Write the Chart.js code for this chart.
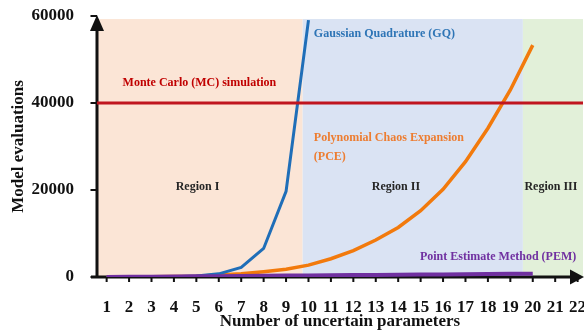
<!DOCTYPE html>
<html>
<head>
<meta charset="utf-8">
<script src="https://cdn.jsdelivr.net/npm/chart.js@4/dist/chart.umd.min.js"></script>
<style>
  html, body { margin: 0; padding: 0; background: #fff; }
  canvas { display: block; }
</style>
</head>
<body>
<canvas id="evalChart" width="584" height="332"></canvas>
<script>
// number of uncertain parameters
const params = [1, 2, 3, 4, 5, 6, 7, 8, 9, 10, 11, 12, 13, 14, 15, 16, 17, 18, 19, 20];
// model evaluations
const gqEvals = [3, 9, 27, 81, 243, 729, 2187, 6561, 19683, 59049];
const pceEvals = [5, 15, 40, 100, 200, 450, 740, 1220, 1800, 2720, 4200, 6050, 8500, 11400, 15250, 20150, 26500, 34200, 43000, 53300];
const pemEvals = [10, 40, 80, 120, 160, 200, 240, 280, 320, 360, 400, 440, 480, 520, 560, 600, 640, 680, 720, 760];
const mcEvals = 40000;

const xTicks = [1, 2, 3, 4, 5, 6, 7, 8, 9, 10, 11, 12, 13, 14, 15, 16, 17, 18, 19, 20, 21, 22];
const yTicks = [0, 20000, 40000, 60000];
const regionNames = ['Region I', 'Region II', 'Region III'];
const regionEdges = [0.57, 9.74, 19.56, 22.24];

const X_MIN = 0.57, X_MAX = 22.24;
const SHADE_TOP = 59300;
const serif = "'Liberation Serif', 'Times New Roman', serif";

const toPts = (vals) => vals.map((v, i) => ({ x: params[i], y: v }));

// text notes, placed in data coordinates
const notes = [
    { text: 'Gaussian Quadrature (GQ)', x: 10.24, y: 55800, color: '#2E75B6', align: 'left' },
    { text: 'Monte Carlo (MC) simulation', x: 1.71, y: 44670, color: '#C00000', align: 'left' },
    { text: 'Polynomial Chaos Expansion', x: 10.24, y: 31890, color: '#ED7D31', align: 'left' },
    { text: '(PCE)', x: 10.24, y: 27520, color: '#ED7D31', align: 'left' },
    { text: 'Point Estimate Method (PEM)', x: 14.97, y: 4670, color: '#7030A0', align: 'left' },
    { text: regionNames[0], x: 5.05, y: 20760, color: '#262626', align: 'center' },
    { text: regionNames[1], x: 13.9, y: 20760, color: '#262626', align: 'center' },
    { text: regionNames[2], x: 20.81, y: 20760, color: '#262626', align: 'center' }
];

const regionColors = ['#FBE5D6', '#DAE3F3', '#E2F0D9'];

const backdropAndAxes = {
    id: 'backdropAndAxes',
    beforeDatasetsDraw(chart) {
        const { ctx, chartArea: area, scales: { x, y } } = chart;
        ctx.save();
        const top = y.getPixelForValue(SHADE_TOP);
        regionColors.forEach((c, i) => {
            const l = x.getPixelForValue(regionEdges[i]);
            const r = x.getPixelForValue(regionEdges[i + 1]);
            ctx.fillStyle = c;
            ctx.fillRect(l, top, r - l, area.bottom - top);
        });

        // axes with arrow heads
        ctx.strokeStyle = '#111';
        ctx.fillStyle = '#111';
        ctx.lineWidth = 3;
        ctx.beginPath();
        ctx.moveTo(area.left - 6, area.bottom);
        ctx.lineTo(area.right - 12, area.bottom);
        ctx.moveTo(area.left, area.bottom + 1.5);
        ctx.lineTo(area.left, area.top + 14);
        ctx.stroke();

        ctx.beginPath();
        ctx.moveTo(area.right + 1, area.bottom);
        ctx.lineTo(area.right - 13, area.bottom - 7.5);
        ctx.lineTo(area.right - 13, area.bottom + 7.5);
        ctx.closePath();
        ctx.fill();

        ctx.beginPath();
        ctx.moveTo(area.left, area.top - 1);
        ctx.lineTo(area.left - 7, area.top + 15);
        ctx.lineTo(area.left + 7, area.top + 15);
        ctx.closePath();
        ctx.fill();

        // tick marks
        ctx.lineWidth = 2;
        ctx.beginPath();
        yTicks.forEach(v => {
            const py = y.getPixelForValue(v);
            ctx.moveTo(area.left - 6.5, py);
            ctx.lineTo(area.left, py);
        });
        xTicks.forEach(v => {
            const px = x.getPixelForValue(v);
            ctx.moveTo(px, area.bottom);
            ctx.lineTo(px, area.bottom + 5);
        });
        ctx.stroke();
        ctx.restore();
    },
    afterDatasetsDraw(chart) {
        const { ctx, scales: { x, y } } = chart;
        ctx.save();
        ctx.font = `bold 12px ${serif}`;
        ctx.textBaseline = 'middle';
        notes.forEach(n => {
            ctx.fillStyle = n.color;
            ctx.textAlign = n.align;
            ctx.fillText(n.text, x.getPixelForValue(n.x), y.getPixelForValue(n.y));
        });
        ctx.restore();
    }
};

const tickFont = { family: serif, size: 17, weight: 'bold' };

new Chart(document.getElementById('evalChart'), {
    type: 'line',
    data: {
        datasets: [
            { label: 'PEM', data: toPts(pemEvals), borderColor: '#7030A0', borderWidth: 4 },
            { label: 'MC', data: [{ x: X_MIN, y: mcEvals }, { x: X_MAX, y: mcEvals }], borderColor: '#C0151F', borderWidth: 3 },
            { label: 'GQ', data: toPts(gqEvals), borderColor: '#1F6EB8', borderWidth: 3 },
            { label: 'PCE', data: toPts(pceEvals), borderColor: '#F27A0C', borderWidth: 3.5 }
        ]
    },
    options: {
        responsive: false,
        animation: false,
        devicePixelRatio: 1,
        parsing: true,
        elements: { point: { radius: 0 }, line: { tension: 0 } },
        layout: { padding: { top: 16, right: 1, left: 0, bottom: 0 } },
        plugins: { legend: { display: false }, tooltip: { enabled: false } },
        scales: {
            x: {
                type: 'linear',
                min: X_MIN,
                max: X_MAX,
                afterBuildTicks: s => { s.ticks = xTicks.map(v => ({ value: v })); },
                afterFit: s => { s.height = 55; s.paddingLeft = 0; s.paddingRight = 0; },
                grid: { display: false },
                border: { display: false },
                ticks: { font: tickFont, color: '#111', padding: 12, maxRotation: 0, autoSkip: false },
                title: {
                    display: true,
                    text: 'Number of uncertain parameters',
                    font: tickFont,
                    color: '#111',
                    padding: { top: 0, bottom: 0 }
                }
            },
            y: {
                type: 'linear',
                min: 0,
                max: 60000,
                afterBuildTicks: s => { s.ticks = yTicks.map(v => ({ value: v })); },
                afterFit: s => { s.width = 97; s.paddingTop = 0; s.paddingBottom = 0; },
                grid: { display: false },
                border: { display: false },
                ticks: { font: tickFont, color: '#111', padding: 15, callback: v => String(v) },
                title: {
                    display: true,
                    text: 'Model evaluations',
                    font: tickFont,
                    color: '#111',
                    padding: { top: 8, bottom: 0 }
                }
            }
        }
    },
    plugins: [backdropAndAxes]
});
</script>
</body>
</html>
